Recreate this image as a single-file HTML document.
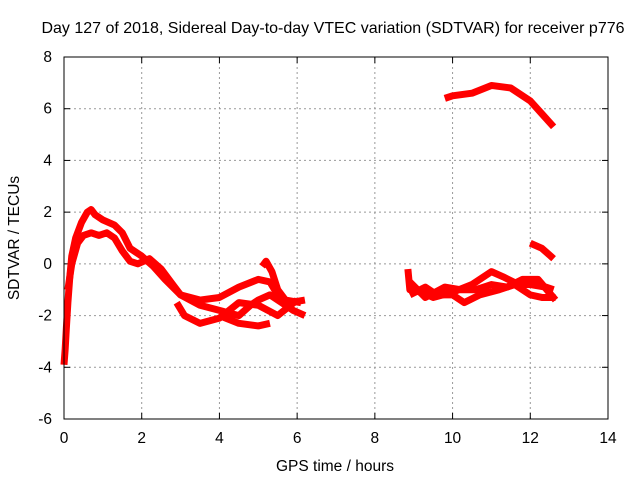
<!DOCTYPE html>
<html><head><meta charset="utf-8"><style>
body{margin:0;background:#fff;font-family:"Liberation Sans",sans-serif}
svg text{font-family:"Liberation Sans",sans-serif;font-size:15.5px;fill:#000}
svg text.title{font-size:16px}
</style></head><body>
<svg id="chart" width="640" height="480" xmlns="http://www.w3.org/2000/svg">
<text class="title" x="333" y="33" text-anchor="middle">Day 127 of 2018, Sidereal Day-to-day VTEC variation (SDTVAR) for receiver p776</text>
<text x="335" y="471" text-anchor="middle">GPS time / hours</text>
<text transform="translate(19,238) rotate(-90)" text-anchor="middle">SDTVAR / TECUs</text>
<g id="grid"></g><g id="ticks"></g><g id="series"></g>
<rect x="64" y="57" width="544" height="362" fill="none" stroke="#000" stroke-width="1"/>
</svg>
<script>
const xTicks=[0,2,4,6,8,10,12,14];
const yTicks=[-6,-4,-2,0,2,4,6,8];
const seriesA=[[0,-3.9],[0.03,-3.3],[0.06,-2.5],[0.1,-1.5],[0.15,-0.5],[0.2,0.3],[0.3,1.0],[0.45,1.6],[0.6,2.0],[0.7,2.1],[0.8,1.9],[1.0,1.7],[1.3,1.5],[1.5,1.2],[1.7,0.6],[2.0,0.3],[2.3,-0.1],[2.6,-0.6],[3.0,-1.2],[3.5,-1.4],[4.0,-1.3],[4.5,-0.9],[5.0,-0.6],[5.3,-0.7],[5.5,-1.2],[5.8,-1.5],[6.2,-1.4]];
const seriesB=[[0.1,-1.0],[0.2,0],[0.35,0.8],[0.5,1.1],[0.7,1.2],[0.9,1.1],[1.1,1.2],[1.3,1.0],[1.5,0.5],[1.7,0.1],[1.9,0.0],[2.2,0.2],[2.5,-0.2],[2.8,-0.8],[3.0,-1.2],[3.5,-1.6],[4.0,-1.8],[4.5,-2.0],[4.8,-1.6],[5.0,-1.4],[5.3,-1.2],[5.6,-1.5],[5.9,-1.8],[6.2,-2.0]];
const seriesC=[[2.9,-1.5],[3.1,-2.0],[3.5,-2.3],[4.0,-2.1],[4.5,-1.5],[5.0,-1.6],[5.5,-2.0],[6.0,-1.4]];
const seriesD=[[4.0,-2.0],[4.5,-2.3],[5.0,-2.4],[5.3,-2.3]];
const seriesE=[[5.1,-0.1],[5.2,0.1],[5.35,-0.3],[5.5,-1.0],[5.7,-1.4],[6.1,-1.5]];
const seriesF=[[9.8,6.4],[10.0,6.5],[10.5,6.6],[11.0,6.9],[11.5,6.8],[12.0,6.3],[12.3,5.8],[12.6,5.3]];
const seriesG=[[12.0,0.8],[12.3,0.6],[12.6,0.2]];
const seriesH=[[8.85,-0.2],[8.9,-1.0],[9.2,-1.1],[9.5,-1.3],[10.0,-1.1],[10.5,-0.8],[11.0,-0.3],[11.3,-0.5],[11.7,-0.8],[12.0,-0.8],[12.4,-0.9],[12.6,-1.0]];
const seriesI=[[8.9,-1.2],[9.3,-0.9],[9.6,-1.2],[10.0,-1.2],[10.3,-1.5],[10.7,-1.2],[11.2,-1.0],[11.6,-0.8],[12.0,-1.2],[12.3,-1.3],[12.65,-1.3]];
const seriesJ=[[8.9,-0.7],[9.3,-1.3],[9.8,-0.9],[10.2,-1.0],[10.6,-1.0],[11.0,-0.8],[11.4,-0.9],[11.8,-0.6],[12.2,-0.6],[12.65,-1.4]];
const allSeries=[seriesA,seriesB,seriesC,seriesD,seriesE,seriesF,seriesG,seriesH,seriesI,seriesJ];
const NS="http://www.w3.org/2000/svg";
const X=h=>64+h*544/14, Y=v=>57+(8-v)*362/14;
function mk(t,a,p){const e=document.createElementNS(NS,t);for(const k in a)e.setAttribute(k,a[k]);p.appendChild(e);return e;}
const grid=document.getElementById('grid'),ticks=document.getElementById('ticks'),ser=document.getElementById('series');
xTicks.forEach(t=>{
 if(t>0&&t<14){const g=mk('line',{x1:X(t),x2:X(t),y1:57,y2:419,stroke:'#999','stroke-dasharray':'2,3'},grid);
 
 }
 mk('line',{x1:X(t),x2:X(t),y1:419,y2:413,stroke:'#000'},ticks);
 mk('line',{x1:X(t),x2:X(t),y1:57,y2:63,stroke:'#000'},ticks);
 const l=mk('text',{x:X(t),y:443,'text-anchor':'middle'},ticks);l.textContent=t;
 
 
});
yTicks.forEach(t=>{
 if(t>-6&&t<8){const g=mk('line',{x1:64,x2:608,y1:Y(t),y2:Y(t),stroke:'#999','stroke-dasharray':'2,3'},grid);
 
 }
 mk('line',{x1:64,x2:70,y1:Y(t),y2:Y(t),stroke:'#000'},ticks);
 mk('line',{x1:602,x2:608,y1:Y(t),y2:Y(t),stroke:'#000'},ticks);
 const l=mk('text',{x:52,y:Y(t)+5,'text-anchor':'end'},ticks);l.textContent=t;
 
 
});
allSeries.forEach((s,i)=>{
 const p=mk('polyline',{points:s.map(d=>X(d[0])+','+Y(d[1])).join(' '),fill:'none',stroke:'#f00','stroke-width':7,'stroke-linejoin':'round','stroke-linecap':'butt'},ser);
 
 
});
</script>
</body></html>
